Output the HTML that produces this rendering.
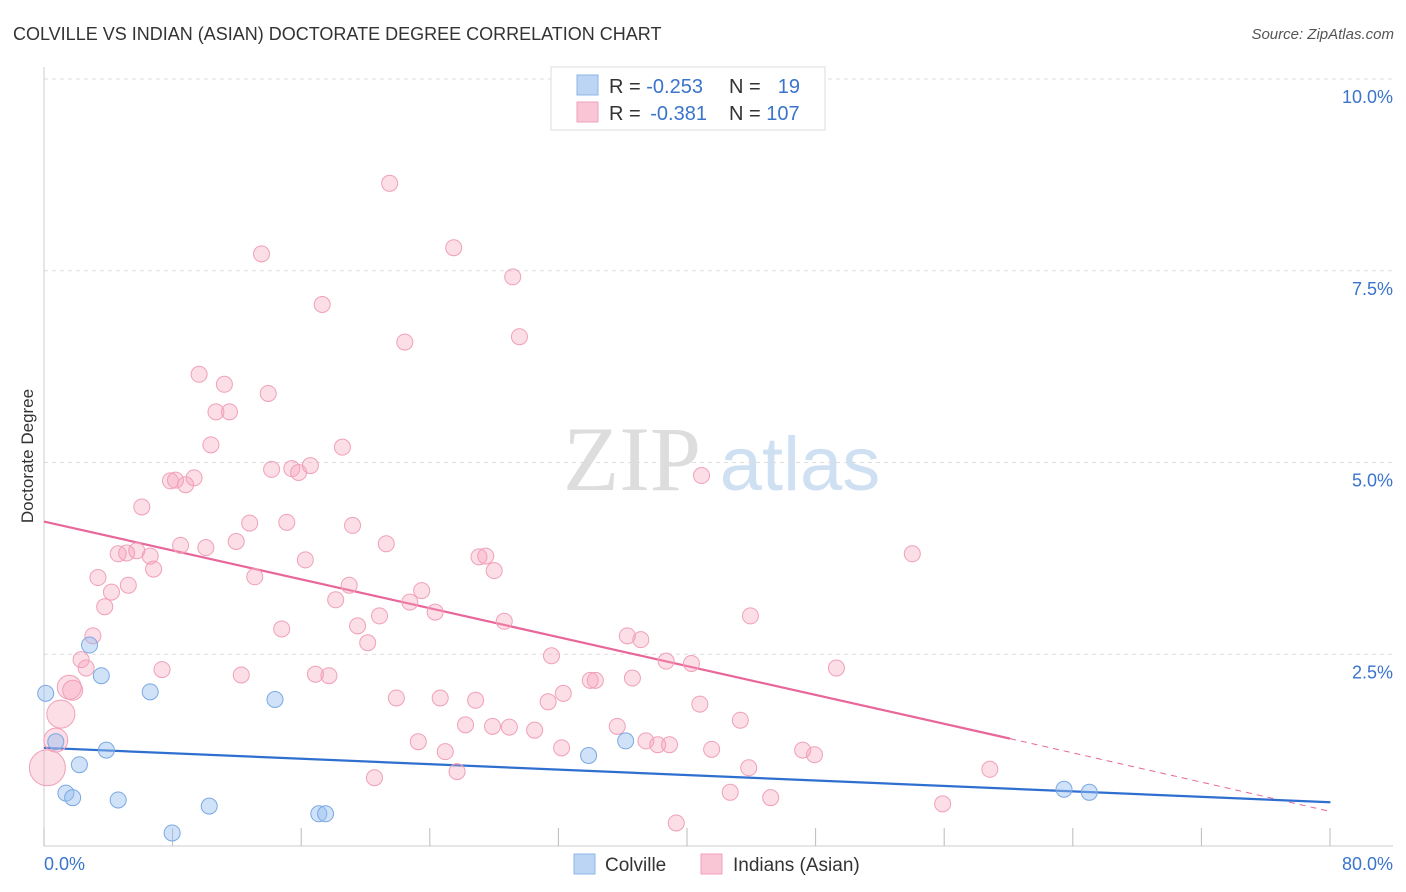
<!DOCTYPE html>
<html><head><meta charset="utf-8">
<style>
body{margin:0;background:#fff;font-family:"Liberation Sans",sans-serif;}
svg{display:block}
</style></head>
<body>
<svg id="chart" width="1406" height="892" xmlns="http://www.w3.org/2000/svg">
<text x="13" y="40" font-size="18" fill="#333">COLVILLE VS INDIAN (ASIAN) DOCTORATE DEGREE CORRELATION CHART</text>
<text x="1394" y="39" font-size="15" fill="#555" font-style="italic" text-anchor="end">Source: ZipAtlas.com</text>
<text transform="translate(33,456) rotate(-90)" font-size="17" fill="#333" text-anchor="middle">Doctorate Degree</text>
<g>
<text x="632" y="490" font-size="92" fill="#ddd" font-family="Liberation Serif" text-anchor="middle">ZIP</text>
<text x="800" y="490" font-size="76" fill="#cfe0f3" text-anchor="middle">atlas</text>
</g>
<g id="grid"></g>
<g id="ticks"></g>
<g id="lines"></g>
<g id="pts"></g>
<g>
<rect x="551" y="67" width="274" height="63" fill="#fff" stroke="#ddd"/>
<rect x="577" y="75" width="21" height="20" fill="#bcd5f5" stroke="#8fb5e8"/>
<rect x="577" y="102" width="21" height="20" fill="#f9c6d5" stroke="#f0a0b8"/>
<text x="609" y="93" font-size="20" fill="#333">R = <tspan fill="#3a74cc">-0.253</tspan></text>
<text x="729" y="93" font-size="20" fill="#333">N =</text>
<text x="800" y="93" font-size="20" fill="#3a74cc" text-anchor="end">19</text>
<text x="609" y="120" font-size="20" fill="#333">R = <tspan fill="#3a74cc" dx="4">-0.381</tspan></text>
<text x="729" y="120" font-size="20" fill="#333">N = <tspan fill="#3a74cc">107</tspan></text>
</g>
<g>
<rect x="574" y="854" width="21" height="20" fill="#bcd5f5" stroke="#8fb5e8"/>
<text x="605" y="871" font-size="19" fill="#333">Colville</text>
<rect x="701" y="854" width="21" height="20" fill="#f9c6d5" stroke="#f0a0b8"/>
<text x="733" y="871" font-size="19" fill="#333">Indians (Asian)</text>
</g>
</svg>
<script>
const yTicks=[2.5,5.0,7.5,10.0];
const yTickLabels=["2.5%","5.0%","7.5%","10.0%"];
const xTickLabels=["0.0%","80.0%"];
const colvilleX=[0.1,0.7,1.3,1.7,2.1,2.7,3.4,3.7,4.4,6.3,7.6,9.8,13.7,16.3,16.7,32.3,34.5,60.5,62.0];
const colvilleY=[1.99,1.36,0.69,0.63,1.06,2.62,2.22,1.25,0.60,2.01,0.17,0.52,1.91,0.42,0.42,1.18,1.37,0.74,0.70];
const indianX=[20.5,24.3,12.9,27.8,16.5,28.2,21.4,9.2,10.7,13.3,10.2,11.0,9.9,17.7,39.0,7.5,7.8,8.4,8.9,13.5,14.7,15.1,15.8,5.8,12.2,14.4,18.3,11.4,8.1,9.6,20.3,4.4,4.9,5.5,6.3,6.5,26.2,25.8,26.7,51.5,3.2,15.5,12.5,18.1,4.0,5.0,22.4,3.6,17.3,21.7,19.9,23.2,27.3,14.1,18.6,2.9,19.2,34.6,35.4,41.9,30.1,2.2,2.5,7.0,36.9,38.4,47.0,11.7,16.1,16.9,34.9,32.4,32.7,1.5,1.7,20.9,23.5,25.6,30.8,29.9,38.9,1.0,25.0,26.6,27.6,34.0,41.3,29.1,0.7,22.2,35.7,36.4,37.1,30.7,23.8,39.6,45.0,45.7,0.2,41.8,24.5,19.6,56.1,40.7,43.1,53.3,37.5];
const indianY=[8.64,7.80,7.72,7.42,7.06,6.64,6.57,6.15,6.02,5.90,5.66,5.66,5.23,5.20,4.83,4.76,4.77,4.71,4.80,4.91,4.92,4.87,4.96,4.42,4.21,4.22,4.18,3.97,3.92,3.89,3.94,3.81,3.82,3.85,3.78,3.61,3.78,3.77,3.59,3.81,3.50,3.73,3.51,3.40,3.31,3.40,3.33,3.12,3.21,3.18,3.00,3.05,2.93,2.83,2.87,2.74,2.65,2.74,2.69,3.00,2.48,2.43,2.32,2.30,2.41,2.38,2.32,2.23,2.24,2.22,2.19,2.16,2.16,2.07,2.03,1.93,1.93,1.90,1.99,1.88,1.85,1.72,1.58,1.56,1.55,1.56,1.64,1.51,1.38,1.36,1.37,1.32,1.32,1.28,1.23,1.26,1.25,1.19,1.02,1.02,0.97,0.89,1.00,0.70,0.63,0.55,0.30];
const indianR=[8,8,8,8,8,8,8,8,8,8,8,8,8,8,8,8,8,8,8,8,8,8,8,8,8,8,8,8,8,8,8,8,8,8,8,8,8,8,8,8,8,8,8,8,8,8,8,8,8,8,8,8,8,8,8,8,8,8,8,8,8,8,8,8,8,8,8,8,8,8,8,8,8,12,10,8,8,8,8,8,8,14,8,8,8,8,8,8,12,8,8,8,8,8,8,8,8,8,18,8,8,8,8,8,8,8,8];
const trendBlue=[[0,1.28],[76.3,0.57]];
const trendPink=[[0,4.23],[57.3,1.40],[76.3,0.45]];
const X=v=>44+v*16.86, Y=v=>846-v*76.7;
const NS="http://www.w3.org/2000/svg";
function mk(tag,attrs,parent){const e=document.createElementNS(NS,tag);for(const k in attrs)e.setAttribute(k,attrs[k]);document.getElementById(parent).appendChild(e);return e;}
yTicks.forEach((t,i)=>{
 const g=mk('line',{x1:44,x2:1393,y1:Y(t),y2:Y(t),stroke:'#ddd','stroke-dasharray':'4,4'},'grid');
 
 
 const l=mk('text',{x:1393,y:Y(t)+24,'font-size':18,fill:'#3a74cc','text-anchor':'end'},'ticks');
 l.textContent=yTickLabels[i];
 
 
});
const ax=mk('path',{d:'M44,67V846H1393',stroke:'#ccc',fill:'none'},'ticks');


for(let i=0;i<=10;i++){const t=mk('line',{x1:44+i*128.6,x2:44+i*128.6,y1:828,y2:846,stroke:'#bbb'},'ticks');
 
 }
[[44,'start'],[1393,'end']].forEach((p,i)=>{const l=mk('text',{x:p[0],y:870,'font-size':18,fill:'#3a74cc','text-anchor':p[1]},'ticks');l.textContent=xTickLabels[i];
 
 });
indianX.forEach((v,i)=>{const c=mk('circle',{cx:X(v),cy:Y(indianY[i]),r:indianR[i],fill:'rgba(245,160,185,0.35)',stroke:'#f0a0b8','stroke-width':1},'pts');
 
 });
colvilleX.forEach((v,i)=>{const c=mk('circle',{cx:X(v),cy:Y(colvilleY[i]),r:8,fill:'rgba(150,190,240,0.45)',stroke:'#7aa8e3','stroke-width':1},'pts');
 
 });
let l1=mk('line',{x1:X(trendPink[0][0]),y1:Y(trendPink[0][1]),x2:X(trendPink[1][0]),y2:Y(trendPink[1][1]),stroke:'#e8669a','stroke-width':2.2},'lines');


let l2=mk('line',{x1:X(trendPink[1][0]),y1:Y(trendPink[1][1]),x2:X(trendPink[2][0]),y2:Y(trendPink[2][1]),stroke:'#e8669a','stroke-width':1,'stroke-dasharray':'6,5'},'lines');


let l3=mk('line',{x1:X(trendBlue[0][0]),y1:Y(trendBlue[0][1]),x2:X(trendBlue[1][0]),y2:Y(trendBlue[1][1]),stroke:'#2f6fd0','stroke-width':2.2},'lines');


</script>
</body></html>
